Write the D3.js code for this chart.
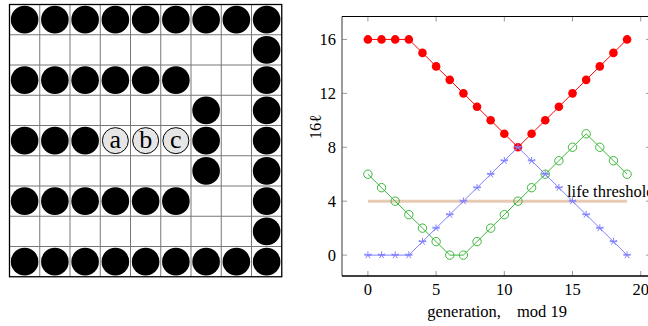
<!DOCTYPE html>
<html>
<head>
<meta charset="utf-8">
<script src="https://cdn.jsdelivr.net/npm/d3@7"></script>
<style>
  body { margin: 0; background: #fff; }
  svg { display: block; font-family: "Liberation Serif", "DejaVu Serif", serif; }
</style>
</head>
<body>
<svg id="chart" width="648" height="326"></svg>
<script>
// board: # = stone, a/b/c = labelled marker, . = empty
const board = [
  "#########",
  "........#",
  "######..#",
  "......#.#",
  "###abc#.#",
  "......#.#",
  "######..#",
  "........#",
  "#########"
];

// series, x = generation 0..19
const generations = d3.range(0, 20);
const redValues   = [16, 16, 16, 16, 15, 14, 13, 12, 11, 10, 9, 8, 9, 10, 11, 12, 13, 14, 15, 16];
const greenValues = [6, 5, 4, 3, 2, 1, 0, 0, 1, 2, 3, 4, 5, 6, 7, 8, 9, 8, 7, 6];
const blueValues  = [0, 0, 0, 0, 1, 2, 3, 4, 5, 6, 7, 8, 7, 6, 5, 4, 3, 2, 1, 0];
const threshold = 4;
const xTicks = [0, 5, 10, 15, 20];
const yTicks = [0, 4, 8, 12, 16];

const svg = d3.select("#chart");

// ---- left: board ----
const cell = 30.25;
const bx = 9.5, by = 4.5;
const bg = svg.append("g").attr("transform", `translate(${bx},${by})`);
const n = board.length;
const gridScale = d3.scaleLinear().domain([0, n]).range([0, n * cell]);

bg.selectAll("line.v").data(d3.range(1, n)).join("line")
  .attr("x1", d => gridScale(d)).attr("x2", d => gridScale(d))
  .attr("y1", 0).attr("y2", gridScale(n))
  .attr("stroke", "#777").attr("stroke-width", 1);
bg.selectAll("line.h").data(d3.range(1, n)).join("line")
  .attr("y1", d => gridScale(d)).attr("y2", d => gridScale(d))
  .attr("x1", 0).attr("x2", gridScale(n))
  .attr("stroke", "#777").attr("stroke-width", 1);
bg.append("rect").attr("width", gridScale(n)).attr("height", gridScale(n))
  .attr("fill", "none").attr("stroke", "#000").attr("stroke-width", 1.3);

const cells = [];
board.forEach((row, r) => row.split("").forEach((ch, c) => {
  if (ch !== ".") cells.push({ r, c, ch });
}));

bg.selectAll("circle.stone").data(cells.filter(d => d.ch === "#")).join("circle")
  .attr("cx", d => gridScale(d.c + 0.5)).attr("cy", d => gridScale(d.r + 0.5))
  .attr("r", 13.8).attr("fill", "#000");

const marks = cells.filter(d => d.ch !== "#");
bg.selectAll("circle.mark").data(marks).join("circle")
  .attr("cx", d => gridScale(d.c + 0.5)).attr("cy", d => gridScale(d.r + 0.5))
  .attr("r", 13).attr("fill", "#e6e6e6").attr("stroke", "#000").attr("stroke-width", 1);
bg.selectAll("text.mark").data(marks).join("text")
  .attr("x", d => gridScale(d.c + 0.5)).attr("y", d => gridScale(d.r + 0.5) + 7.5)
  .attr("text-anchor", "middle").attr("font-size", 26)
  .text(d => d.ch);

// ---- right: plot ----
const x = d3.scaleLinear().domain([-1.9, 22]).range([342, 668]);
const y = d3.scaleLinear().domain([-1.55, 17.7]).range([276, 16.5]);
const pg = svg.append("g");
const fs = 16.5;

// ticks (inner, top/bottom, left/right)
const tickCol = "#999";
xTicks.forEach(t => {
  pg.append("line").attr("x1", x(t)).attr("x2", x(t)).attr("y1", y.range()[0]).attr("y2", y.range()[0] - 5)
    .attr("stroke", tickCol);
  pg.append("line").attr("x1", x(t)).attr("x2", x(t)).attr("y1", y.range()[1]).attr("y2", y.range()[1] + 5)
    .attr("stroke", tickCol);
  pg.append("text").attr("x", x(t)).attr("y", 295).attr("text-anchor", "middle")
    .attr("font-size", fs).text(t);
});
yTicks.forEach(t => {
  pg.append("line").attr("x1", x.range()[0]).attr("x2", x.range()[0] + 5).attr("y1", y(t)).attr("y2", y(t))
    .attr("stroke", tickCol);
  pg.append("line").attr("x1", 646).attr("x2", 651).attr("y1", y(t)).attr("y2", y(t))
    .attr("stroke", tickCol);
  pg.append("text").attr("x", 336).attr("y", y(t) + 5.5).attr("text-anchor", "end")
    .attr("font-size", fs).text(t);
});

// frame
pg.append("line").attr("x1", x.range()[0]).attr("x2", x.range()[0]).attr("y1", y.range()[0]).attr("y2", y.range()[1])
  .attr("stroke", "#666").attr("stroke-width", 1.3);
pg.append("line").attr("x1", x.range()[0]).attr("x2", 700).attr("y1", y.range()[0]).attr("y2", y.range()[0])
  .attr("stroke", "#000").attr("stroke-width", 1.3);
pg.append("line").attr("x1", x.range()[0]).attr("x2", 700).attr("y1", y.range()[1]).attr("y2", y.range()[1])
  .attr("stroke", "#000").attr("stroke-width", 1.1);

// threshold
pg.append("line").attr("x1", x(0)).attr("x2", x(19)).attr("y1", y(threshold)).attr("y2", y(threshold))
  .attr("stroke", "#e8cbb4").attr("stroke-width", 3);

const line = d3.line().x((d, i) => x(generations[i])).y(d => y(d));

// red: filled circles
pg.append("path").datum(redValues).attr("d", line).attr("fill", "none").attr("stroke", "#ff0000").attr("stroke-width", 1);
pg.selectAll("circle.red").data(redValues).join("circle")
  .attr("cx", (d, i) => x(generations[i])).attr("cy", d => y(d)).attr("r", 4.3).attr("fill", "#ff0000");

// green: open circles
pg.append("path").datum(greenValues).attr("d", line).attr("fill", "none").attr("stroke", "#3cb83c").attr("stroke-width", 1);
pg.selectAll("circle.green").data(greenValues).join("circle")
  .attr("cx", (d, i) => x(generations[i])).attr("cy", d => y(d)).attr("r", 4.2)
  .attr("fill", "none").attr("stroke", "#3cb83c").attr("stroke-width", 1);

// blue: star marks
pg.append("path").datum(blueValues).attr("d", line).attr("fill", "none").attr("stroke", "#8080ff").attr("stroke-width", 1);
const star = d3.range(5).map(k => {
  const a = -Math.PI / 2 + k * 2 * Math.PI / 5;
  return `M0,0L${(3.8 * Math.cos(a)).toFixed(2)},${(3.8 * Math.sin(a)).toFixed(2)}`;
}).join("");
pg.selectAll("path.blue").data(blueValues).join("path")
  .attr("transform", (d, i) => `translate(${x(generations[i])},${y(d)})`)
  .attr("d", "M-3.8,0H3.8" + star).attr("fill", "none").attr("stroke", "#8080ff").attr("stroke-width", 1);

// labels
pg.append("text").attr("x", 567).attr("y", 197).attr("font-size", fs).text("life threshold");
pg.append("text").attr("x", 501).attr("y", 317).attr("text-anchor", "end").attr("font-size", fs).text("generation,");
pg.append("text").attr("x", 517).attr("y", 317).attr("font-size", fs).text("mod 19");
pg.append("text").attr("transform", `translate(321,127) rotate(-90)`).attr("text-anchor", "middle")
  .attr("font-size", fs).text("16ℓ");
</script>
</body>
</html>
